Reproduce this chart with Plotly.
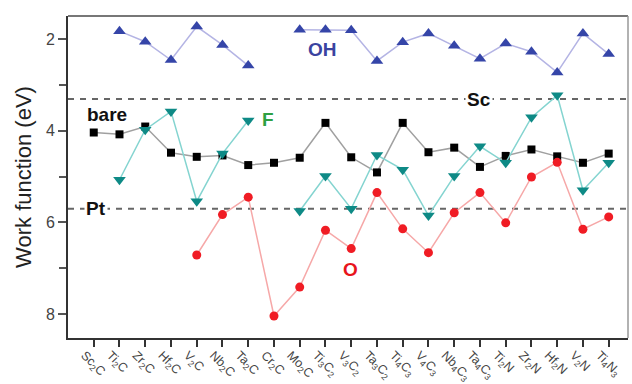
import plotly.graph_objects as go

categories = ["Sc<sub>2</sub>C", "Ti<sub>2</sub>C", "Zr<sub>2</sub>C", "Hf<sub>2</sub>C", "V<sub>2</sub>C",
              "Nb<sub>2</sub>C", "Ta<sub>2</sub>C", "Cr<sub>2</sub>C", "Mo<sub>2</sub>C", "Ti<sub>3</sub>C<sub>2</sub>",
              "V<sub>3</sub>C<sub>2</sub>", "Ta<sub>3</sub>C<sub>2</sub>", "Ti<sub>4</sub>C<sub>3</sub>", "V<sub>4</sub>C<sub>3</sub>",
              "Nb<sub>4</sub>C<sub>3</sub>", "Ta<sub>4</sub>C<sub>3</sub>", "Ti<sub>2</sub>N", "Zr<sub>2</sub>N",
              "Hf<sub>2</sub>N", "V<sub>2</sub>N", "Ti<sub>4</sub>N<sub>3</sub>"]

bare = [4.04, 4.08, 3.91, 4.48, 4.57, 4.54, 4.75, 4.70, 4.59, 3.83, 4.58,
        4.91, 3.83, 4.47, 4.37, 4.79, 4.55, 4.41, 4.56, 4.70, 4.50]
oh = [None, 1.83, 2.06, 2.46, 1.73, 2.13, 2.58, None, 1.80, 1.80, 1.81,
      2.48, 2.07, 1.88, 2.15, 2.43, 2.10, 2.28, 2.73, 1.88, 2.33]
f = [None, 5.07, 3.98, 3.58, 5.54, 4.50, 3.78, None, 5.75, 4.99, 5.70,
     4.53, 4.85, 5.85, 4.99, 4.34, 4.70, 3.71, 3.23, 5.30, 4.70]
o = [None, None, None, None, 6.71, 5.83, 5.45, 8.04, 7.41, 6.17, 6.57,
     5.35, 6.14, 6.66, 5.79, 5.35, 6.01, 5.01, 4.69, 6.15, 5.88]

SC_WF = 3.31
PT_WF = 5.70

x = list(range(len(categories)))

fig = go.Figure()
fig.add_trace(go.Scatter(x=x, y=bare, mode="lines+markers", name="bare",
                         line=dict(color="#a0a0a0", width=1.5),
                         marker=dict(symbol="square", size=8, color="#000000")))
fig.add_trace(go.Scatter(x=x, y=oh, mode="lines+markers", name="OH", connectgaps=False,
                         line=dict(color="#b4b4e4", width=1.5),
                         marker=dict(symbol="triangle-up", size=11, color="#3545a8")))
fig.add_trace(go.Scatter(x=x, y=f, mode="lines+markers", name="F", connectgaps=False,
                         line=dict(color="#84d4d0", width=1.5),
                         marker=dict(symbol="triangle-down", size=11, color="#0e8a86")))
fig.add_trace(go.Scatter(x=x, y=o, mode="lines+markers", name="O", connectgaps=False,
                         line=dict(color="#f6a8a8", width=1.5),
                         marker=dict(symbol="circle", size=9, color="#f01c24")))

for val in (SC_WF, PT_WF):
    fig.add_shape(type="line", xref="paper", yref="y", x0=0, x1=1, y0=val, y1=val,
                  line=dict(color="#666666", width=2, dash="6px,6px"), layer="below")

# frame top & right
fig.add_shape(type="line", xref="paper", yref="paper", x0=0, x1=1, y0=1, y1=1,
              line=dict(color="#777777", width=2))
fig.add_shape(type="line", xref="paper", yref="paper", x0=1, x1=1, y0=0, y1=1,
              line=dict(color="#999999", width=1.5))

lab_font = dict(family="Liberation Sans, Arial", size=19)
def lab(text, xx, yy, color, bg=None):
    fig.add_annotation(x=xx, y=yy, xref="x", yref="y", text="<b>%s</b>" % text, showarrow=False,
                       font=dict(color=color, **lab_font),
                       bgcolor=bg if bg else "rgba(0,0,0,0)", borderpad=1)

lab("bare", 0.53, 3.65, "#111111")
lab("Pt", 0.07, PT_WF, "#111111", "white")
lab("Sc", 14.98, SC_WF, "#111111", "white")
lab("OH", 8.88, 2.24, "#3a43a0")
lab("F", 6.78, 3.76, "#2ea043")
lab("O", 9.97, 7.02, "#e8141c")

fig.update_layout(
    width=632, height=384,
    margin=dict(l=68, r=4, t=16, b=46),
    paper_bgcolor="white", plot_bgcolor="white",
    showlegend=False,
    font=dict(family="Liberation Sans, Arial", color="#333333"),
)
fig.update_xaxes(range=[-1, 20.75], tickmode="array", tickvals=x, ticktext=categories,
                 tickangle=45, ticks="outside", ticklen=7, tickwidth=2, tickcolor="#333333",
                 showline=True, linecolor="#333333", linewidth=2, showgrid=False, zeroline=False,
                 tickfont=dict(size=12.5, color="#444444"), ticklabelshift=-9,
                 ticklabelstandoff=-4, automargin=False)
fig.update_yaxes(range=[8.52, 1.5], tickmode="array", tickvals=[2, 4, 6, 8],
                 ticks="outside", ticklen=8, tickwidth=1.5, tickcolor="#555555",
                 minor=dict(tickvals=[3, 5, 7], ticks="outside", ticklen=7, tickwidth=1.5, tickcolor="#555555"),
                 showline=True, linecolor="#333333", linewidth=2, showgrid=False, zeroline=False,
                 tickfont=dict(size=16, color="#444444"), automargin=False,
                 title=dict(text="Work function (eV)", font=dict(size=22, color="#222222"), standoff=8))

fig.write_html("out.html")
